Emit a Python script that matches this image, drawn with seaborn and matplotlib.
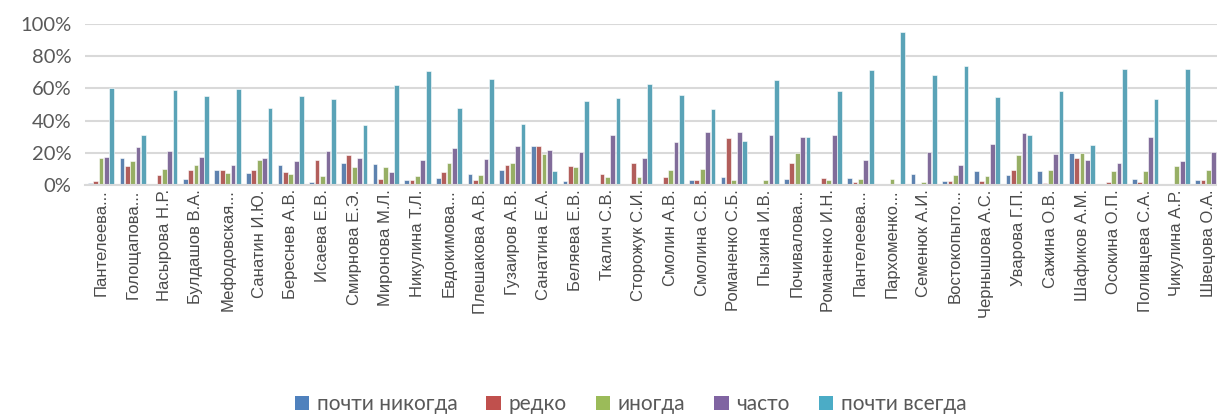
import pandas as pd
import matplotlib
matplotlib.use('Agg')
import matplotlib.pyplot as plt
import seaborn as sns
from matplotlib.ticker import PercentFormatter
from matplotlib.patches import Patch

# names shown on the x axis (long ones truncated as in the original)
names = ['Пантелеева...', 'Голощапова...', 'Насырова Н.Р.', 'Булдашов В.А.', 'Мефодовская...',
         'Санатин И.Ю.', 'Береснев А.В.', 'Исаева Е.В.', 'Смирнова Е.Э.', 'Миронова М.Л.',
         'Никулина Т.Л.', 'Евдокимова...', 'Плешакова А.В.', 'Гузаиров А.В.', 'Санатина Е.А.',
         'Беляева Е.В.', 'Ткалич С.В.', 'Сторожук С.И.', 'Смолин А.В.', 'Смолина С.В.',
         'Романенко С.Б.', 'Пызина И.В.', 'Почивалова...', 'Романенко И.Н.', 'Пантелеева...',
         'Пархоменко...', 'Семенюк А.И.', 'Востокопыто...', 'Чернышова А.С.', 'Уварова Г.П.',
         'Сажина О.В.', 'Шафиков А.М.', 'Осокина О.П.', 'Поливцева С.А.', 'Чикулина А.Р.',
         'Швецова О.А.']

series = ['почти никогда', 'редко', 'иногда', 'часто', 'почти всегда']

# values in percent
almost_never = [1.2, 16.7, 1.0, 4.1, 9.3, 7.6, 12.8, 2.1, 14.0, 13.0,
                2.9, 4.3, 7.2, 9.3, 24.0, 2.5, 0.6, 0.0, 0.4, 3.3,
                4.8, 0.0, 3.7, 0.4, 4.3, 0.0, 7.2, 2.5, 8.9, 6.6,
                8.9, 20.0, 1.0, 3.7, 0.0, 3.3]
rarely = [2.5, 11.8, 6.6, 9.7, 9.3, 9.3, 8.1, 15.3, 19.0, 4.1,
          2.9, 8.1, 2.9, 12.4, 24.0, 11.8, 7.2, 14.0, 5.2, 3.3,
          29.1, 0.0, 14.0, 4.3, 2.1, 0.0, 0.0, 2.5, 2.5, 9.7,
          1.2, 16.7, 2.1, 1.9, 0.0, 3.3]
sometimes = [16.7, 14.9, 9.9, 12.2, 7.4, 15.9, 6.8, 5.6, 11.0, 11.0,
             5.6, 14.0, 6.2, 14.0, 19.6, 11.0, 5.2, 4.8, 9.7, 10.3,
             3.1, 2.9, 20.2, 3.1, 4.1, 3.9, 2.1, 6.2, 5.6, 18.4,
             9.3, 20.0, 8.5, 8.5, 11.6, 9.7]
often = [17.4, 23.6, 21.1, 17.4, 12.4, 16.7, 14.9, 21.1, 16.7, 8.1,
         15.3, 23.3, 16.1, 24.0, 21.5, 20.7, 31.0, 16.7, 26.7, 33.1,
         33.1, 30.8, 30.0, 31.0, 15.9, 0.0, 20.7, 12.4, 25.8, 32.2,
         19.2, 15.3, 14.0, 30.0, 14.9, 20.7]
almost_always = [60.1, 30.8, 58.9, 55.0, 59.7, 48.1, 55.0, 53.3, 37.0, 62.0,
                 70.7, 48.1, 65.7, 38.2, 8.5, 52.1, 54.1, 62.4, 55.6, 47.5,
                 27.5, 65.1, 30.0, 58.1, 71.1, 95.0, 68.0, 74.0, 54.5, 31.0,
                 58.5, 25.2, 72.3, 53.7, 72.3, 63.0]

colors = ['#4F81BD', '#C0504D', '#9BBB59', '#8064A2', '#4BACC6']

rows = []
for s, vals in zip(series, [almost_never, rarely, sometimes, often, almost_always]):
    for i, v in enumerate(vals):
        rows.append({'idx': i, 'series': s, 'value': v})
df = pd.DataFrame(rows)

sns.set_style('white')
plt.rcParams['font.family'] = ['Liberation Sans', 'DejaVu Sans']

fig = plt.figure(figsize=(12.17, 4.18), dpi=100)
ax = fig.add_axes([0.07, 0.557, 0.936, 0.386])

sns.barplot(data=df, x='idx', y='value', hue='series', hue_order=series,
            palette=colors, width=0.85, gap=0.12, edgecolor='white', linewidth=0.4,
            ax=ax, legend=False)

ax.set_ylim(0, 100)
ax.set_xlim(-0.5, len(names) - 0.5)
ax.set_yticks([0, 20, 40, 60, 80, 100])
ax.yaxis.set_major_formatter(PercentFormatter(100, decimals=0))
ax.grid(axis='y', color='#D9D9D9', linewidth=1.5)
ax.set_axisbelow(True)
for side in ['top', 'right', 'left']:
    ax.spines[side].set_visible(False)
ax.spines['bottom'].set_color('#D9D9D9')
ax.spines['bottom'].set_linewidth(1.5)

ax.set_xticks(range(len(names)))
ax.set_xticklabels(names, rotation=90, fontsize=12, color='#4a4a4a')
ax.tick_params(axis='x', length=0, pad=3)
ax.tick_params(axis='y', length=0, pad=10, labelsize=14.5, labelcolor='#595959')
for t in ax.get_yticklabels():
    t.set_family(['Lato', 'DejaVu Sans'])
ax.set_xlabel('')
ax.set_ylabel('')

handles = [Patch(facecolor=c, edgecolor='none') for c in colors]
leg = fig.legend(handles, series, loc='center', bbox_to_anchor=(0.518, 0.033), ncol=5,
                 frameon=False, handlelength=0.7, handleheight=0.7, handletextpad=0.35,
                 columnspacing=1.4, prop={'family': ['Lato', 'DejaVu Sans'], 'size': 15})
for t in leg.get_texts():
    t.set_color('#595959')

fig.savefig('out.png', dpi=100)
